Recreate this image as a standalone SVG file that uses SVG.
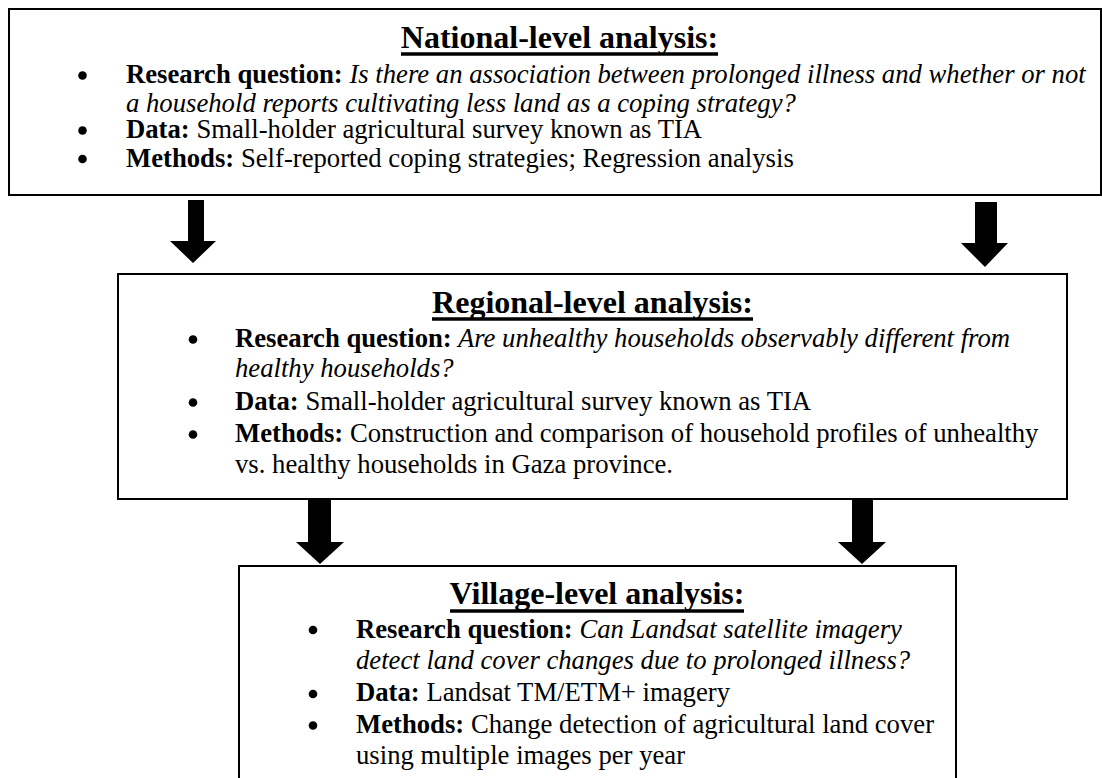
<svg xmlns="http://www.w3.org/2000/svg" width="1102" height="778" viewBox="0 0 1102 778">
<style>
.box{fill:#fff;stroke:#000;stroke-width:2}
.title{font-family:"Liberation Serif","Times New Roman",serif;font-size:32px;font-weight:bold;fill:#000;text-anchor:middle}
.body{font-family:"Liberation Serif","Times New Roman",serif;font-size:26.7px;fill:#000}
.b{font-weight:bold}
.i{font-style:italic}
.ul{stroke:#000;stroke-width:3.5}
.bullet{fill:#000}
.arrow{fill:#000}
</style>
<rect width="1102" height="778" fill="#fff"/>
<g id="connectors">
<polygon class="arrow" points="188,200 204,200 204,241 216,241 193,263 170,241 188,241"/>
<polygon class="arrow" points="975,202 997,202 997,243 1008,243 985,267 961,243 975,243"/>
<polygon class="arrow" points="308,499 331,499 331,542 344,542 320,564 296,542 308,542"/>
<polygon class="arrow" points="852,499 873,499 873,542 886,542 862,564 838,542 852,542"/>
</g>
<g id="national">
<rect class="box" x="9" y="9" width="1092" height="186"/>
<text class="title" x="559.5" y="48">National-level analysis:</text>
<line class="ul" x1="401" y1="54" x2="718" y2="54"/>
<circle class="bullet" cx="82.5" cy="75.5" r="4.3"/>
<circle class="bullet" cx="82.5" cy="130.5" r="4.3"/>
<circle class="bullet" cx="82.5" cy="159" r="4.3"/>
<text class="body" x="126" y="83"><tspan class="b">Research question:</tspan><tspan class="i"> Is there an association between prolonged illness and whether or not</tspan></text>
<text class="body i" x="126" y="111.5">a household reports cultivating less land as a coping strategy?</text>
<text class="body" x="126" y="138"><tspan class="b">Data:</tspan> Small-holder agricultural survey known as TIA</text>
<text class="body" x="126" y="166.5"><tspan class="b">Methods:</tspan> Self-reported coping strategies; Regression analysis</text>
</g>
<g id="regional">
<rect class="box" x="118" y="274" width="949" height="225"/>
<text class="title" x="592.5" y="313">Regional-level analysis:</text>
<line class="ul" x1="432" y1="319" x2="753" y2="319"/>
<circle class="bullet" cx="193" cy="339.5" r="4.3"/>
<circle class="bullet" cx="193" cy="402.5" r="4.3"/>
<circle class="bullet" cx="193" cy="434.5" r="4.3"/>
<text class="body" x="235" y="347"><tspan class="b">Research question:</tspan><tspan class="i"> Are unhealthy households observably different from</tspan></text>
<text class="body i" x="235" y="377">healthy households?</text>
<text class="body" x="235" y="410"><tspan class="b">Data:</tspan> Small-holder agricultural survey known as TIA</text>
<text class="body" x="235" y="442"><tspan class="b">Methods:</tspan> Construction and comparison of household profiles of unhealthy</text>
<text class="body" x="235" y="473">vs. healthy households in Gaza province.</text>
</g>
<g id="village">
<rect class="box" x="239" y="566" width="717" height="230"/>
<text class="title" x="597" y="604">Village-level analysis:</text>
<line class="ul" x1="450" y1="611" x2="744" y2="611"/>
<circle class="bullet" cx="313" cy="630" r="4.3"/>
<circle class="bullet" cx="313" cy="694" r="4.3"/>
<circle class="bullet" cx="313" cy="725.5" r="4.3"/>
<text class="body" x="356" y="637.5"><tspan class="b">Research question:</tspan><tspan class="i"> Can Landsat satellite imagery</tspan></text>
<text class="body i" x="356" y="669">detect land cover changes due to prolonged illness?</text>
<text class="body" x="356" y="701"><tspan class="b">Data:</tspan> Landsat TM/ETM+ imagery</text>
<text class="body" x="356" y="733"><tspan class="b">Methods:</tspan> Change detection of agricultural land cover</text>
<text class="body" x="356" y="764">using multiple images per year</text>
</g>
</svg>
